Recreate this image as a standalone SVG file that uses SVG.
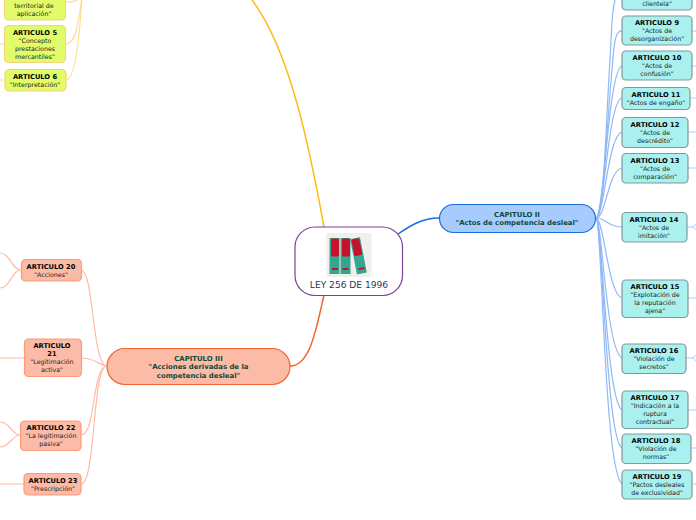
<svg xmlns="http://www.w3.org/2000/svg" width="696" height="520" viewBox="0 0 696 520">
<style>
text{font-family:"DejaVu Sans",sans-serif;font-size:6.3px;text-anchor:middle;fill:#222}
.t{font-weight:bold;fill:#000;font-size:6.7px}
.c{font-weight:bold;font-size:6.9px;fill:#0b4a3a}
.y{fill:#e2fb69;stroke:#f7d27f;stroke-width:1.2}
.b{fill:#a9f0ee;stroke:#7f9a9a;stroke-width:1.2}
.r{fill:#fbbba7;stroke:#fd9a78;stroke-width:1.2}
.ly{fill:none;stroke:#ffdf8e;stroke-width:1.2}
.lb{fill:none;stroke:#8fb8f7;stroke-width:1.2}
.ls{fill:none;stroke:#a9c9fa;stroke-width:1}
.lr{fill:none;stroke:#fcbca5;stroke-width:1.2}
</style>
<rect width="696" height="520" fill="#fff"/>
<g id="connectors">
<path d="M324 227C310 150 290 50 252 0" fill="none" stroke="#ffb90f" stroke-width="1.5"/>
<path d="M324 295C316 330 310 366 290 366" fill="none" stroke="#f4632e" stroke-width="1.5"/>
<path d="M398 234C410 226 422 218 439 218" fill="none" stroke="#1a6fdc" stroke-width="1.5"/>
<path class="ly" d="M66 2C76 2 78 0 80 -4M66 44C76 44 79 20 82 -4M66 80C76 80 80 30 82 -4M0 44H4M0 80H5"/>
<path class="lb" d="M596 218C604 218 606 120 610 60C612 20 612 10 616 -4"/>
<path class="lb" d="M596 218C604 218 606 130 612 70C614 40 616 30 622 31"/>
<path class="lb" d="M596 218C604 218 608 70 622 66"/>
<path class="lb" d="M596 218C604 218 608 100 622 98"/>
<path class="lb" d="M596 218C604 218 608 135 622 132"/>
<path class="lb" d="M596 218C606 218 608 170 622 168"/>
<path class="lb" d="M596 218C606 218 608 227 622 227"/>
<path class="lb" d="M596 218C604 218 608 295 622 298"/>
<path class="lb" d="M596 218C602 218 606 350 622 358"/>
<path class="lb" d="M596 218C602 218 606 400 622 410"/>
<path class="lb" d="M596 218C602 218 606 440 622 448"/>
<path class="lb" d="M596 218C602 218 604 470 622 484"/>
<path class="ls" d="M692 31H696M692 66H696M690 98H696M688 132H696M688 168H696M688 298H696M692 448H696M692 484H696M688 410H696"/>
<path class="ls" d="M687 227H692C694 227 695 225 696 224M692 227C694 227 695 229 696 230M686 358H692C694 358 695 356 696 355M692 358C694 358 695 360 696 361"/>
<path class="lr" d="M107 366C92 366 94 270 81 270M107 366C100 366 96 358 81 358M107 366C92 366 96 435 81 435M107 366C92 366 96 484 81 484"/>
<path class="lr" d="M21 270C12 270 10 253 0 253M21 270C12 270 10 288 0 288M0 358H24M20 435C12 435 10 422 0 422M20 435C12 435 10 447 0 447M0 484H24"/>
</g>
<g id="center">
<rect x="295" y="227" width="107.500" height="68.500" rx="20" fill="#fff" stroke="#7b3f98" stroke-width="1.2"/>
<rect x="326.500" y="233" width="45" height="44" rx="2" fill="#eff0ec"/>
<rect x="329.500" y="238" width="10" height="36" fill="#36a58f"/>
<rect x="340.500" y="238" width="10" height="36" fill="#36a58f"/>
<rect x="331" y="238.500" width="8" height="18" rx="1.500" fill="#c4122f"/>
<rect x="342" y="238.500" width="8" height="18" rx="1.500" fill="#c4122f"/>
<rect x="332" y="268" width="6" height="2" fill="#c4122f"/>
<rect x="342.500" y="268" width="6" height="2" fill="#c4122f"/>
<g transform="rotate(-11 358 256)"><rect x="353.500" y="238" width="10" height="36" fill="#36a58f"/><rect x="354.500" y="238.500" width="8" height="17" rx="1.500" fill="#c4122f"/><rect x="356" y="268" width="6" height="2" fill="#c4122f"/></g>
<text x="349" y="288" style="font-size:9.1px;fill:#1f3864">LEY 256 DE 1996</text>
</g>
<g id="cap2"><rect x="439.500" y="204.500" width="156" height="28" rx="14" fill="#a8cbfd" stroke="#1a6fdc" stroke-width="1.2"/>
<text class="c" x="517" y="217">CAPITULO II</text><text class="c" x="517" y="225">"Actos de competencia desleal"</text></g>
<g id="cap3"><rect x="107" y="348.500" width="183" height="36" rx="18" fill="#fbbba7" stroke="#f4632e" stroke-width="1.2"/>
<text class="c" x="198.500" y="361">CAPITULO III</text><text class="c" x="198.500" y="369">"Acciones derivadas de la</text><text class="c" x="198.500" y="378">competencia desleal"</text></g>
<g id="a4"><rect class="y" x="4.500" y="-20" width="61" height="40" rx="4"/><text x="34" y="8">territorial de</text><text x="34" y="16">aplicación"</text></g>
<g id="a5"><rect class="y" x="4.500" y="25.500" width="61" height="37" rx="4"/><text class="t" x="35" y="35">ARTICULO 5</text><text x="35" y="43">"Concepto</text><text x="35" y="51">prestaciones</text><text x="35" y="59">mercantiles"</text></g>
<g id="a6"><rect class="y" x="5" y="69.500" width="61" height="21.500" rx="4"/><text class="t" x="35" y="79">ARTICULO 6</text><text x="35" y="87">"Interpretación"</text></g>
<g id="a8"><rect class="b" x="622" y="-20" width="70" height="30" rx="4"/><text x="657" y="6">clientela"</text></g>
<g id="a9"><rect class="b" x="622" y="16" width="70" height="29" rx="4"/><text class="t" x="657" y="25">ARTICULO 9</text><text x="657" y="33">"Actos de</text><text x="657" y="41">desorganización"</text></g>
<g id="a10"><rect class="b" x="622" y="51" width="70" height="29" rx="4"/><text class="t" x="657" y="60">ARTICULO 10</text><text x="657" y="68">"Actos de</text><text x="657" y="76">confusión"</text></g>
<g id="a11"><rect class="b" x="622" y="87.500" width="68" height="22" rx="4"/><text class="t" x="656" y="97">ARTICULO 11</text><text x="656" y="105">"Actos de engaño"</text></g>
<g id="a12"><rect class="b" x="622" y="117.500" width="66" height="30" rx="4"/><text class="t" x="655" y="127">ARTICULO 12</text><text x="655" y="135">"Actos de</text><text x="655" y="143">descrédito"</text></g>
<g id="a13"><rect class="b" x="622" y="153.500" width="66" height="29.500" rx="4"/><text class="t" x="655" y="163">ARTICULO 13</text><text x="655" y="171">"Actos de</text><text x="655" y="179">comparación"</text></g>
<g id="a14"><rect class="b" x="622" y="212.500" width="65" height="29.500" rx="4"/><text class="t" x="654" y="222">ARTICULO 14</text><text x="654" y="230">"Actos de</text><text x="654" y="238">imitación"</text></g>
<g id="a15"><rect class="b" x="622" y="280" width="66" height="37.500" rx="4"/><text class="t" x="655" y="289">ARTICULO 15</text><text x="655" y="297">"Explotación de</text><text x="655" y="305">la reputación</text><text x="655" y="313">ajena"</text></g>
<g id="a16"><rect class="b" x="622" y="344" width="64" height="29.500" rx="4"/><text class="t" x="654" y="353">ARTICULO 16</text><text x="654" y="361">"Violación de</text><text x="654" y="369">secretos"</text></g>
<g id="a17"><rect class="b" x="622" y="391" width="66" height="37.500" rx="4"/><text class="t" x="655" y="400">ARTICULO 17</text><text x="655" y="408">"Indicación a la</text><text x="655" y="416">ruptura</text><text x="655" y="424">contractual"</text></g>
<g id="a18"><rect class="b" x="622" y="434" width="69" height="29.500" rx="4"/><text class="t" x="656" y="443">ARTICULO 18</text><text x="656" y="451">"Violación de</text><text x="656" y="459">normas"</text></g>
<g id="a19"><rect class="b" x="622" y="470" width="70" height="29" rx="4"/><text class="t" x="657" y="479">ARTICULO 19</text><text x="657" y="487">"Pactos desleales</text><text x="657" y="495">de exclusividad"</text></g>
<g id="a20"><rect class="r" x="21.500" y="259.500" width="60" height="21.500" rx="4"/><text class="t" x="51" y="269">ARTICULO 20</text><text x="51" y="277">"Acciones"</text></g>
<g id="a21"><rect class="r" x="24.500" y="339" width="57" height="37.500" rx="4"/><text class="t" x="52" y="348">ARTICULO</text><text class="t" x="52" y="356">21</text><text x="52" y="364">"Legitimación</text><text x="52" y="372">activa"</text></g>
<g id="a22"><rect class="r" x="20.500" y="421" width="60.500" height="29.500" rx="4"/><text class="t" x="51" y="430">ARTICULO 22</text><text x="51" y="438">"La legitimación</text><text x="51" y="446">pasiva"</text></g>
<g id="a23"><rect class="r" x="24" y="473.500" width="57" height="21.500" rx="4"/><text class="t" x="53" y="483">ARTICULO 23</text><text x="53" y="491">"Prescripción"</text></g>
</svg>
